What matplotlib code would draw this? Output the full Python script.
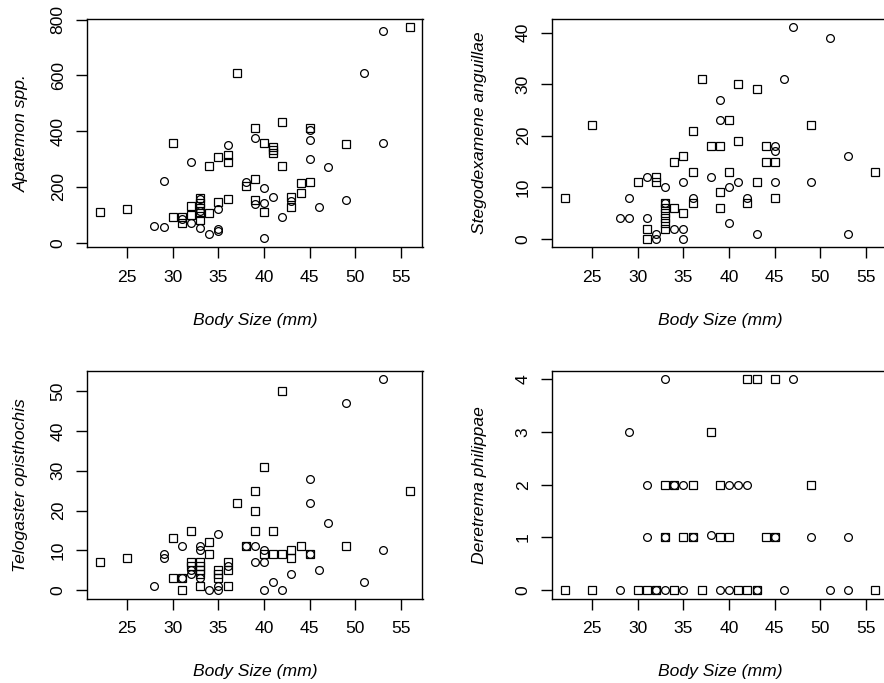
import matplotlib
matplotlib.use("Agg")
import matplotlib.pyplot as plt

plt.rcParams['font.family'] = ['Liberation Sans', 'DejaVu Sans']

# ---------------- data ----------------
# Apatemon spp.
apa_sq_x = [22, 25, 30, 30, 31, 31, 32, 32, 33, 33, 33, 33, 33, 34, 34, 35, 35, 36, 36, 36, 37, 38,
            39, 39, 39, 40, 40, 41, 41, 41, 42, 42, 43, 43, 44, 44, 45, 45, 49, 56]
apa_sq_y = [110, 120, 359, 92, 92, 72, 133, 99, 159, 141, 123, 105, 81, 275, 108, 309, 147, 315, 291, 156, 610, 203,
            412, 227, 153, 359, 109, 344, 332, 321, 434, 275, 165, 129, 215, 177, 411, 219, 354, 773]
apa_ci_x = [28, 29, 29, 31, 32, 32, 33, 33, 33, 34, 35, 35, 35, 36, 38, 39, 39, 40, 40, 40, 41, 42, 43,
            45, 45, 45, 46, 47, 49, 51, 53, 53]
apa_ci_y = [60, 57, 221, 85, 290, 72, 155, 115, 52, 30, 121, 50, 43, 350, 219, 377, 139, 197, 141, 16, 165, 93, 150,
            405, 368, 300, 129, 270, 153, 610, 759, 356]

# Stegodexamene anguillae
ste_sq_x = [22, 25, 30, 31, 31, 32, 32, 33, 33, 33, 33, 33, 33, 34, 34, 35, 35, 36, 36, 36, 37, 38, 39, 39, 39,
            40, 40, 41, 41, 42, 43, 43, 44, 44, 45, 45, 49, 56]
ste_sq_y = [8, 22, 11, 2, 0, 12, 11, 7, 6, 5, 4, 3, 2, 15, 6, 16, 5, 21, 13, 7, 31, 18, 18, 9, 6,
            23, 13, 30, 19, 7, 29, 11, 18, 15, 15, 8, 22, 13]
ste_ci_x = [28, 29, 29, 31, 31, 32, 32, 33, 33, 34, 35, 35, 35, 36, 38, 39, 39, 40, 40, 41, 42, 43, 45, 45, 45,
            46, 47, 49, 51, 53, 53]
ste_ci_y = [4, 4, 8, 12, 4, 1, 0, 10, 7, 2, 11, 2, 0, 8, 12, 27, 23, 10, 3, 11, 8, 1, 18, 17, 11,
            31, 41, 11, 39, 16, 1]

# Telogaster opisthochis
tel_sq_x = [22, 25, 30, 30, 31, 31, 32, 32, 32, 33, 33, 33, 33, 33, 34, 34, 35, 35, 35, 36, 36, 36, 37, 38,
            39, 39, 39, 40, 40, 41, 41, 42, 42, 43, 43, 44, 45, 49, 56]
tel_sq_y = [7, 8, 13, 3, 3, 0, 15, 7, 6, 7, 6, 5, 4, 1, 12, 9, 5, 4, 3, 7, 5, 1, 22, 11,
            25, 20, 15, 31, 9, 15, 9, 50, 9, 10, 8, 11, 9, 11, 25]
tel_ci_x = [28, 29, 29, 31, 31, 32, 32, 33, 33, 33, 34, 35, 35, 35, 36, 38, 39, 39, 40, 40, 40, 41, 42, 43,
            45, 45, 45, 46, 47, 49, 51, 53, 53]
tel_ci_y = [1, 9, 8, 11, 3, 5, 4, 11, 10, 3, 0, 14, 1, 0, 6, 11, 11, 7, 10, 7, 0, 2, 0, 4,
            28, 22, 9, 5, 17, 47, 2, 53, 10]

# Deretrema philippae
der_sq_x = [22, 25, 30, 31, 32, 33, 33, 34, 34, 35, 36, 36, 37, 38, 39, 39, 40, 41, 42, 42, 43, 43, 44, 45, 45, 49, 56]
der_sq_y = [0, 0, 0, 0, 0, 2, 1, 2, 0, 1, 2, 1, 0, 3, 2, 1, 1, 0, 4, 0, 4, 0, 1, 4, 1, 2, 0]
der_ci_x = [28, 29, 31, 31, 32, 33, 33, 33, 34, 35, 35, 36, 38, 39, 40, 40, 41, 42, 43, 45, 46, 47, 49, 51, 53, 53]
der_ci_y = [0, 3, 2, 1, 0, 4, 1, 0, 2, 2, 0, 1, 1.05, 0, 2, 0, 2, 2, 0, 1, 0, 4, 1, 0, 1, 0]

x_ticks = [25, 30, 35, 40, 45, 50, 55]
panels = [
    ("Apatemon spp.", apa_sq_x, apa_sq_y, apa_ci_x, apa_ci_y, [0, 200, 400, 600, 800], (-16.5, 802.5)),
    ("Stegodexamene anguillae", ste_sq_x, ste_sq_y, ste_ci_x, ste_ci_y, [0, 10, 20, 30, 40], (-1.64, 42.64)),
    ("Telogaster opisthochis", tel_sq_x, tel_sq_y, tel_ci_x, tel_ci_y, [0, 10, 20, 30, 40, 50], (-2.12, 55.12)),
    ("Deretrema philippae", der_sq_x, der_sq_y, der_ci_x, der_ci_y, [0, 1, 2, 3, 4], (-0.16, 4.16)),
]

W, H = 884, 683
fig = plt.figure(figsize=(W / 100, H / 100), dpi=100)

# pixel boxes: left, right, top, bottom
boxes = [(87.3, 422.5, 19, 247.3), (552.4, 887.6, 19, 247.3),
         (87.3, 422.5, 370.7, 598.7), (552.4, 887.6, 370.7, 598.7)]
ylab_right = [28.5, 487, 28.5, 487]

for i, (name, sx, sy, cx, cy, yt, ylim) in enumerate(panels):
    l, r, t, b = boxes[i]
    ax = fig.add_axes([l / W, 1 - b / H, (r - l) / W, (b - t) / H])
    ax.plot(sx, sy, 's', mfc='none', mec='black', ms=5.4, mew=0.9, linestyle='none')
    ax.plot(cx, cy, 'o', mfc='none', mec='black', ms=5.6, mew=0.9, linestyle='none')
    ax.set_xlim(20.64, 57.36)
    ax.set_ylim(*ylim)
    ax.set_xticks(x_ticks)
    ax.set_yticks(yt)
    for s in ax.spines.values():
        s.set_linewidth(1.0)
    ax.tick_params(axis='both', direction='out', length=7.7, width=1.0, labelsize=12.6)
    ax.tick_params(axis='x', pad=8.6)
    ax.tick_params(axis='y', labelrotation=90, pad=7.9)
    for lab in ax.get_yticklabels():
        lab.set_va('center')
    fig.text((l + r) / 2 / W, 1 - (b + 77.3) / H, "Body Size (mm)", ha='center', va='baseline',
             fontsize=12.6, style='italic')
    fig.text(ylab_right[i] / W, 1 - (t + b) / 2 / H, name, ha='right', va='center', rotation=90,
             fontsize=12.6, style='italic')

fig.savefig("out.png", dpi=100)
